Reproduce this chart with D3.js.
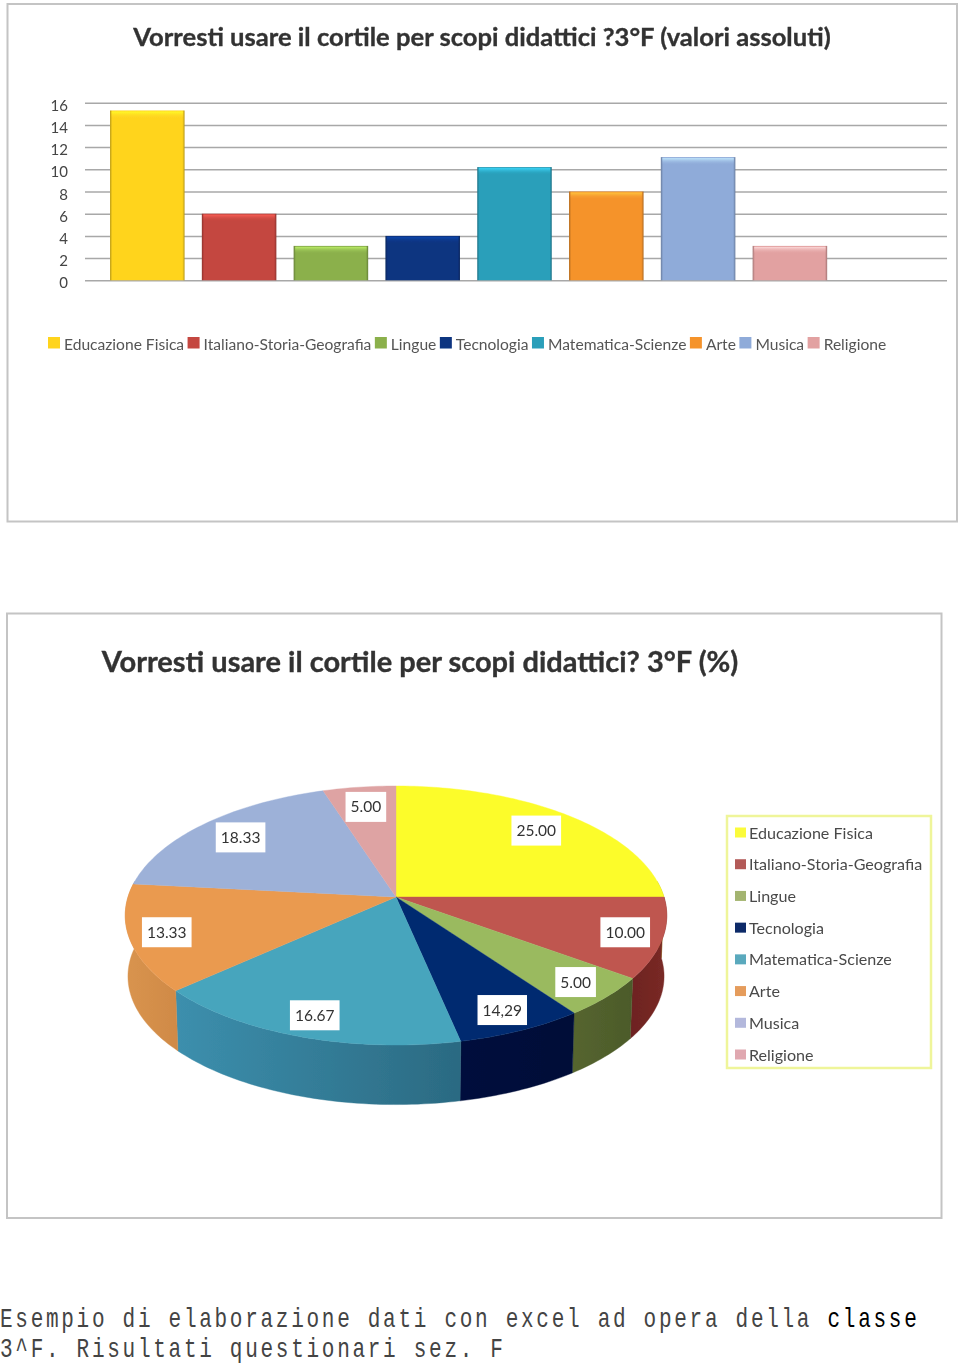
<!DOCTYPE html>
<html><head><meta charset="utf-8">
<script src="https://cdn.jsdelivr.net/npm/d3@7/dist/d3.min.js"></script>
<style>html,body{margin:0;padding:0;background:#fff}svg{display:block}</style>
</head><body><div id="c"></div>
<script>
const categories = ["Educazione Fisica","Italiano-Storia-Geografia","Lingue","Tecnologia","Matematica-Scienze","Arte","Musica","Religione"];
const barValues = [15.3,6,3.1,4,10.2,8,11.1,3.1];
const yTicks = [0,2,4,6,8,10,12,14,16];
const pieValues = [25,10,5,6.67,16.67,13.33,18.33,5];
const pieLabels = ["25.00","10.00","5.00","14,29","16.67","13.33","18.33","5.00"];
const barColors = ["#ffd41f","#c4463f","#8bb04c","#0b3480","#2a9fba","#f5932c","#8fabd9","#e2a1a1"];
const topColors = ["#fcfc2c","#bf5650","#9aba5f","#032c70","#47a5bd","#ea9a50","#9db1d8","#dea3a3"];
const sideColors = ["#b5b520",["#6e2320","#7a2a26"],["#55652f","#4c5a2a"],["#00103c","#000f38"],["#3c8fad","#2b6a82"],["#d9944f","#d08a46"],"#7b8db0","#b58282"];
const legendColors = ["#fbfb3a","#b35a58","#a3b46f","#0b2a68","#5aa9bd","#e59c5c","#b3b8dc","#e0a8b0"];
const title1 = "Vorresti usare il cortile per scopi didattici ?3°F (valori assoluti)";
const title2 = "Vorresti usare il cortile per scopi didattici? 3°F (%)";
const captionLines = [["Esempio di elaborazione dati con excel ad opera della ","classe"],["3^F. Risultati questionari sez. F",""]];

const FONT = "Lato, sans-serif";
const svg = d3.select("#c").append("svg").attr("width",960).attr("height",1365).attr("viewBox","0 0 960 1365");
const defs = svg.append("defs");
defs.append("filter").attr("id","soft").attr("x","-5%").attr("y","-5%").attr("width","110%").attr("height","110%")
  .append("feGaussianBlur").attr("stdDeviation",0.5);

svg.append("rect").attr("x",7.5).attr("y",4).attr("width",949.5).attr("height",517.5).attr("fill","#fff").attr("stroke","#c4c4c4").attr("stroke-width",2);
svg.append("rect").attr("x",7).attr("y",613.5).attr("width",934.5).attr("height",604.5).attr("fill","#fff").attr("stroke","#c4c4c4").attr("stroke-width",2);

const g = svg.append("g").attr("filter","url(#soft)").attr("font-family",FONT);

// Titles
g.append("text").attr("x",482).attr("y",45.5).attr("text-anchor","middle").attr("font-size",25.6).attr("font-weight",700).attr("fill","#333").attr("stroke","#333").attr("stroke-width",.35).text(title1);
g.append("text").attr("x",420).attr("y",671.5).attr("text-anchor","middle").attr("font-size",29).attr("font-weight",700).attr("fill","#333").attr("stroke","#333").attr("stroke-width",.35).text(title2);

// Bars
const y = d3.scaleLinear().domain([0,16]).range([280.3,102.7]);
const x = d3.scaleBand().domain(categories).range([101.4,835.8]).paddingInner(0.188).paddingOuter(0.094);
const axis = d3.axisLeft(y).tickValues(yTicks).tickSize(-862).tickPadding(17);
const ag = g.append("g").attr("transform","translate(85,0)").call(axis);
ag.select(".domain").remove();
ag.selectAll("line").attr("stroke","#a8a8a8").attr("stroke-width",1.5);
ag.selectAll("text").attr("font-family",FONT).attr("font-size",15).attr("fill","#444").attr("dy","0.5em");

categories.forEach((c,i)=>{
  const id="bar"+i, col=d3.color(barColors[i]);
  const gr=defs.append("linearGradient").attr("id",id).attr("x1",0).attr("x2",1).attr("y1",0).attr("y2",0);
  [[0,col.darker(.9)],[.03,col],[.97,col],[1,col.darker(.9)]].forEach(s=>gr.append("stop").attr("offset",s[0]).attr("stop-color",s[1]));
  const gv=defs.append("linearGradient").attr("id",id+"v").attr("x1",0).attr("x2",0).attr("y1",0).attr("y2",1);
  [[0,col.brighter(.9),.9],[1,col,0]].forEach(s=>gv.append("stop").attr("offset",s[0]).attr("stop-color",s[1]).attr("stop-opacity",s[2]));
});
g.selectAll(".bar").data(barValues).join("rect").attr("class","bar")
  .attr("x",(d,i)=>x(categories[i])).attr("width",x.bandwidth())
  .attr("y",d=>y(d)).attr("height",d=>y(0)-y(d)).attr("fill",(d,i)=>`url(#bar${i})`);
g.selectAll(".hl").data(barValues).join("rect").attr("class","hl")
  .attr("x",(d,i)=>x(categories[i])+1.5).attr("width",x.bandwidth()-3)
  .attr("y",d=>y(d)+1).attr("height",7).attr("fill",(d,i)=>`url(#bar${i}v)`);

// Horizontal legend
let lx = 48;
categories.forEach((c,i)=>{
  g.append("rect").attr("x",lx).attr("y",337).attr("width",12).attr("height",11.5).attr("fill",barColors[i]);
  const t=g.append("text").attr("x",lx+16).attr("y",350).attr("font-size",15.6).attr("fill","#555").text(c);
  lx += 16 + t.node().getComputedTextLength() + 3.5;
});

// Perspective 3-D pie
const cx=396, cy=897, rx=268, ry=126.9, k=1/7, depth=61;
const proj=(a,R=1,dy=0,sc=1)=>{const s=1/(1+k*R*Math.cos(a));return [cx+rx*sc*R*Math.sin(a)*s, cy+dy-ry*sc*R*Math.cos(a)*s];};
const arcs=d3.pie().sort(null)(pieValues);
const line=d3.line();
const arcPts=(a0,a1,dy=0,sc=1)=>{const n=Math.max(2,Math.ceil((a1-a0)/0.02));return d3.range(n+1).map(i=>proj(a0+(a1-a0)*i/n,1,dy,sc));};

const pg=svg.append("g").attr("filter","url(#soft)");
arcs.forEach((d,i)=>{
  const a0=Math.max(d.startAngle,Math.PI*0.46), a1=Math.min(d.endAngle,Math.PI*1.54);
  if(a1<=a0) return;
  const top=arcPts(a0,a1), bot=arcPts(a0,a1,depth,0.99).reverse();
  const c=sideColors[i], cols=Array.isArray(c)?c:[c,c];
  const id="side"+i, xs=top.map(p=>p[0]);
  const gr=defs.append("linearGradient").attr("id",id).attr("gradientUnits","userSpaceOnUse")
    .attr("x1",d3.min(xs)).attr("x2",d3.max(xs)).attr("y1",0).attr("y2",0);
  const leftFirst = top[0][0] > top[top.length-1][0];
  gr.append("stop").attr("offset",0).attr("stop-color",leftFirst?cols[0]:cols[1]);
  gr.append("stop").attr("offset",1).attr("stop-color",leftFirst?cols[1]:cols[0]);
  pg.append("path").attr("d",line(top.concat(bot))+"Z").attr("fill",`url(#${id})`).attr("stroke",`url(#${id})`).attr("stroke-width",.4);
});
pg.selectAll(".slice").data(arcs).join("path").attr("class","slice")
  .attr("d",(d)=>line([[cx,cy]].concat(arcPts(d.startAngle,d.endAngle)))+"Z")
  .attr("fill",(d,i)=>topColors[i]).attr("stroke",(d,i)=>topColors[i]).attr("stroke-width",.4);

arcs.forEach((d,i)=>{
  const mid=(d.startAngle+d.endAngle)/2;
  const [px,py]=proj(mid,Math.cos(mid)>0?0.8:0.865);
  const t=pg.append("text").attr("x",px).attr("y",py+5.5).attr("text-anchor","middle").attr("font-family",FONT).attr("font-size",15.5).attr("fill","#333").text(pieLabels[i]);
  const w=t.node().getComputedTextLength()+10;
  pg.insert("rect","text").attr("x",px-w/2).attr("y",py-15).attr("width",w).attr("height",30).attr("fill","#fff");
});

// Vertical legend
g.append("rect").attr("x",727).attr("y",816).attr("width",204).attr("height",252).attr("fill","#fff").attr("stroke","#eff59a").attr("stroke-width",2.5);
const ly=d3.scalePoint().domain(categories).range([833,1055]);
categories.forEach((c,i)=>{
  g.append("rect").attr("x",735).attr("y",ly(c)-5.5).attr("width",11).attr("height",10).attr("fill",legendColors[i]);
  g.append("text").attr("x",749).attr("y",ly(c)+5.5).attr("font-size",16.1).attr("fill","#4a4a4a").text(c);
});

// Caption
const cap=svg.append("g").attr("transform","scale(0.78,1)").attr("font-family","'Liberation Mono', monospace").attr("font-size",27).attr("letter-spacing",3.45).attr("fill","#444");
captionLines.forEach((l,i)=>{
  const t=cap.append("text").attr("x",0).attr("y",1327+i*30).style("white-space","pre");
  t.append("tspan").text(l[0]);
  if(l[1]) t.append("tspan").attr("fill","#000").text(l[1]);
});
</script></body></html>
